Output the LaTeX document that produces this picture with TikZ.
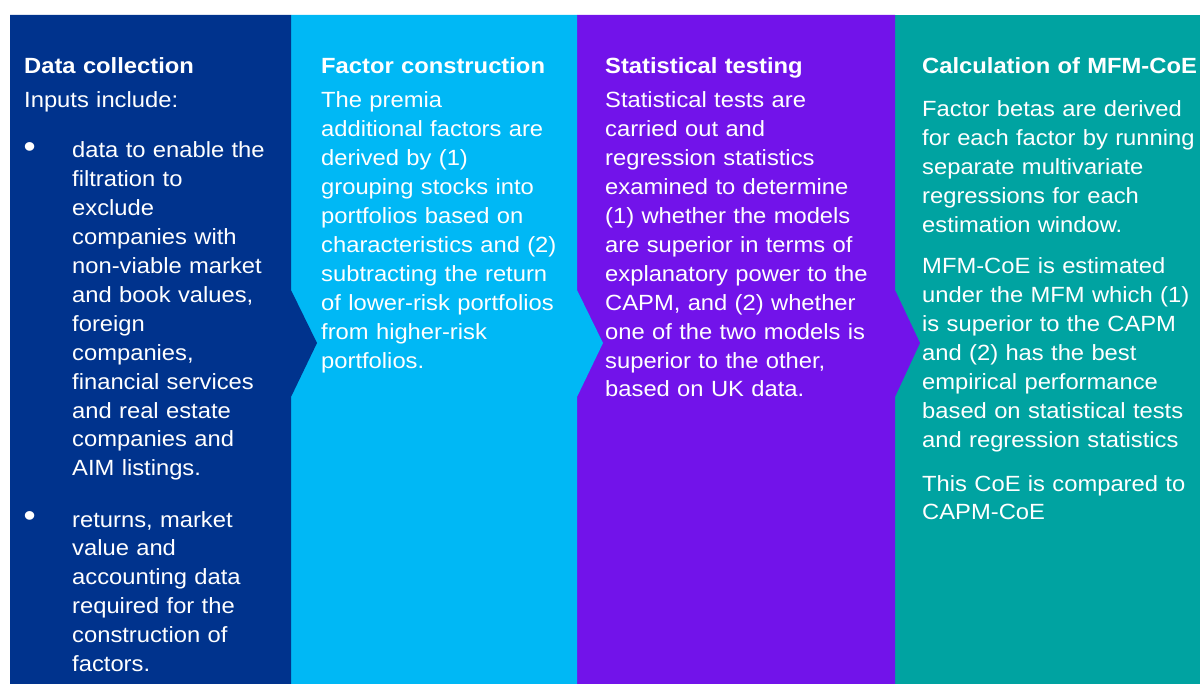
\documentclass[tikz,border=0pt]{standalone}
\usepackage{fontspec}
\setmainfont[FakeStretch=1.08]{Liberation Sans}
\definecolor{cdark}{HTML}{00338D}
\definecolor{clight}{HTML}{00B8F5}
\definecolor{cpurple}{HTML}{7213EA}
\definecolor{cteal}{HTML}{00A3A1}
\begin{document}
\begin{tikzpicture}[x=1pt,y=-1pt,
  txt/.style={anchor=base west,inner sep=0pt,text=white,align=left,text width=300pt,font=\fontsize{22}{28.9}\selectfont},
  head/.style={txt,font=\fontsize{22}{28.9}\selectfont\bfseries},
  bul/.style={txt,text width=20pt,font=\fontsize{32}{32}\selectfont}]
\useasboundingbox (0,0) rectangle (1200,684);
\fill[white] (0,0) rectangle (1200,684);
\fill[cteal] (895,15) rectangle (1200,684);
\fill[cpurple] (577,15) -- (895,15) -- (895,290) -- (920,343) -- (895,397) -- (895,684) -- (577,684) -- cycle;
\fill[clight] (291,15) -- (577,15) -- (577,290) -- (603,343) -- (577,397) -- (577,684) -- (291,684) -- cycle;
\fill[cdark] (10,15) -- (291,15) -- (291,290) -- (317,343) -- (291,397) -- (291,684) -- (10,684) -- cycle;
% Panel 1
\node[head] (h1) at (24,74) {Data collection};
\node[txt] (i1) at (24,108) {Inputs include:};
\node[bul] (b1) at (23.5,157.5) {•};
\node[txt] (t1) at (72,158) {data to enable the\\filtration to\\exclude\\companies with\\non-viable market\\and book values,\\foreign\\companies,\\financial services\\and real estate\\companies and\\AIM listings.};
\node[bul] (b2) at (23.5,526.5) {•};
\node[txt] (t2) at (72,527) {returns, market\\value and\\accounting data\\required for the\\construction of\\factors.};
% Panel 2
\node[head] (h2) at (321,74) {Factor construction};
\node[txt] (p2) at (321,108) {The premia\\additional factors are\\derived by (1)\\grouping stocks into\\portfolios based on\\characteristics and (2)\\subtracting the return\\of lower-risk portfolios\\from higher-risk\\portfolios.};
% Panel 3
\node[head] (h3) at (605,74) {Statistical testing};
\node[txt] (p3) at (605,108) {Statistical tests are\\carried out and\\regression statistics\\examined to determine\\(1) whether the models\\are superior in terms of\\explanatory power to the\\CAPM, and (2) whether\\one of the two models is\\superior to the other,\\based on UK data.};
% Panel 4
\node[head] (h4) at (922,74) {Calculation of MFM-CoE};
\node[txt] (p4a) at (922,117) {Factor betas are derived\\for each factor by running\\separate multivariate\\regressions for each\\estimation window.};
\node[txt] (p4b) at (922,274) {MFM-CoE is estimated\\under the MFM which (1)\\is superior to the CAPM\\and (2) has the best\\empirical performance\\based on statistical tests\\and regression statistics};
\node[txt] (p4c) at (922,491) {This CoE is compared to\\CAPM-CoE};
\end{tikzpicture}
\end{document}
